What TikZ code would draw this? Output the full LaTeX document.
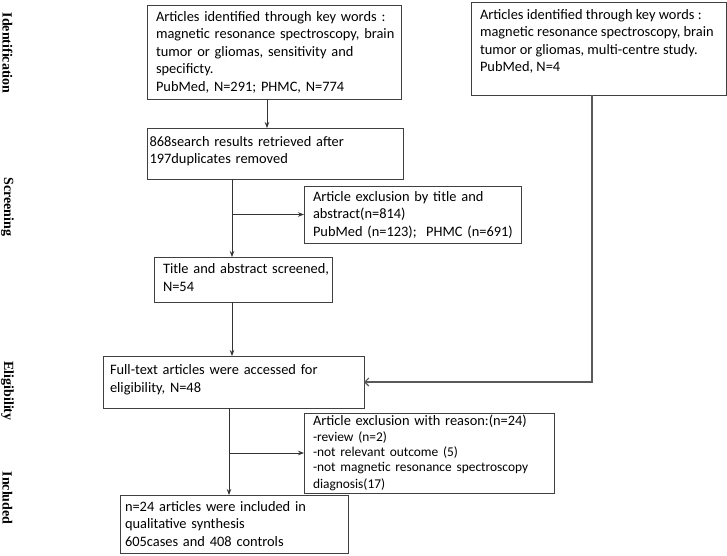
\documentclass[tikz,border=0pt]{standalone}
\usepackage{fontspec}
\setmainfont{Carlito}
\newfontfamily\labfont{Liberation Serif}
\usetikzlibrary{arrows.meta}
\begin{document}
\begin{tikzpicture}[x=1pt,y=-1pt,
  box/.style={draw=black!75, line width=0.8pt, anchor=north west, inner xsep=9pt,
    inner ysep=0pt, outer sep=0pt, align=left,
    font=\fontsize{14.4}{17.5}\selectfont},
  lab/.style={font=\labfont\bfseries\fontsize{14}{16}\selectfont, rotate=-90, inner sep=0pt},
  arr/.style={draw=black!80, line width=0.8pt, -{Stealth[length=6pt,width=4.5pt]}},
  openarr/.style={draw=black!65, line width=1.1pt, -{Straight Barb[length=4pt,width=8pt]}}
]
\useasboundingbox (0,0) rectangle (727,555);

% stage labels
\node[lab] (lid) at (7.5,53) {Identification};
\node[lab] (lsc) at (7.5,207) {Screening};
\node[lab] (lel) at (7.5,391) {Eligibility};
\node[lab] (lin) at (7.5,498) {Included};

% boxes
\node[box, minimum width=254pt, minimum height=94pt, text width=236pt] (id1) at (147,5)
 {\mbox{Articles identified through key words :}\\
  \mbox{magnetic resonance spectroscopy, brain}\\
  \mbox{tumor or gliomas, sensitivity and}\\
  \mbox{specificty.}\\
  \mbox{PubMed, N=291; PHMC, N=774}};

\node[box, minimum width=255pt, minimum height=93pt] (id2) at (471,2)
 {\parbox[c][93pt][t]{237pt}{\vspace*{7pt}%
  \mbox{Articles identified through key words :}\\
  \mbox{magnetic resonance spectroscopy, brain}\\
  \mbox{tumor or gliomas, multi-centre study.}\\
  \mbox{PubMed, N=4}}};

\node[box, inner xsep=2.5pt, minimum width=256pt, minimum height=51pt, text width=251pt] (dup) at (147,128)
 {\mbox{868search results retrieved after}\\
  \mbox{197duplicates removed}\vspace*{5pt}};

\node[box, minimum width=217pt, minimum height=57pt, text width=199pt] (ex1) at (304,186)
 {\mbox{Article exclusion by title and}\\
  \mbox{abstract(n=814)}\\
  \mbox{PubMed (n=123);\ \ PHMC (n=691)}};

\node[box, minimum width=178pt, minimum height=45pt, text width=160pt] (scr) at (154,257)
 {\mbox{Title and abstract screened,}\\
  \mbox{N=54}\vspace*{4pt}};

\node[box, inner xsep=7pt, minimum width=261pt, minimum height=52pt, text width=247pt] (ft) at (103,356)
 {\mbox{Full-text articles were accessed for}\\
  \mbox{eligibility, N=48}\vspace*{5pt}};

\node[box, minimum width=250pt, minimum height=80pt, text width=232pt] (ex2) at (304,413)
 {\mbox{Article exclusion with reason:(n=24)}\\[1pt]
  \fontsize{13.4}{15}\selectfont
  \mbox{-review (n=2)}\\
  \mbox{-not relevant outcome (5)}\\
  \mbox{-not magnetic resonance spectroscopy}\\
  \mbox{diagnosis(17)}};

\node[box, inner xsep=5pt, minimum width=228pt, minimum height=58pt, text width=218pt] (inc) at (120,495)
 {\mbox{n=24 articles were included in}\\
  \mbox{qualitative synthesis}\\
  \mbox{605cases and 408 controls}};

% connectors
\draw[arr] ([xshift=120pt]id1.south west) -- ([xshift=120pt]id1.south west |- dup.north);
\draw[arr] ([xshift=85pt]dup.south west) -- ([xshift=85pt]dup.south west |- scr.north);
\coordinate (b1) at ([xshift=85pt]dup.south west |- ex1.west);
\draw[arr] (b1) -- (ex1.west);
\draw[arr] ([xshift=78pt]scr.south west) -- ([xshift=78pt]scr.south west |- ft.north);
\draw[openarr] ([xshift=121pt]id2.south west) |- (ft.east);
\draw[arr] ([xshift=126pt]ft.south west) -- ([xshift=126pt]ft.south west |- inc.north);
\coordinate (b2) at ([xshift=126pt]ft.south west |- ex2.west);
\draw[arr] (b2) -- (ex2.west);
\end{tikzpicture}
\end{document}
